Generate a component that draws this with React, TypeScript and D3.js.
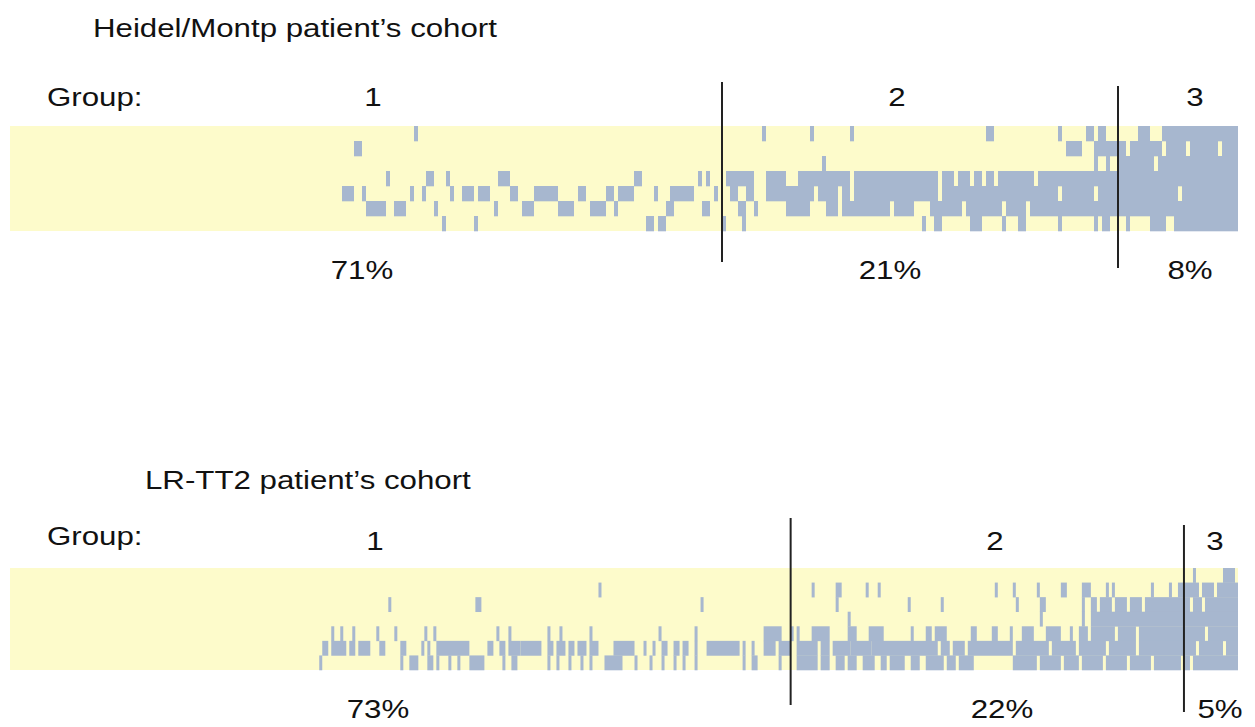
import { useEffect, useRef } from 'react';
import * as d3 from 'd3';

type Run = [number, number];

// Heidel/Montp cohort: altered samples, runs of local column indices per row
const topSamples = 307;
const topFirstAltered = 82;
const topBoundaries = [178, 277];
const topLabels = ['1', '2', '3'];
const topPercents = ['71%', '21%', '8%'];
const topRows: Run[][] = [
  [[19, 19], [106, 106], [118, 118], [128, 128], [162, 163], [180, 180], [187, 188], [190, 191], [200, 202], [206, 224]],
  [[4, 5], [182, 185], [189, 196], [198, 205], [207, 211], [213, 219], [221, 224]],
  [[121, 121], [189, 189], [192, 192], [195, 203], [205, 224]],
  [[12, 12], [22, 23], [27, 27], [40, 42], [74, 75], [90, 90], [92, 92], [97, 103], [107, 111], [115, 121], [122, 127], [129, 137], [138, 149], [151, 153], [155, 157], [159, 160], [162, 163], [165, 173], [175, 224]],
  [[1, 3], [6, 6], [18, 18], [21, 21], [28, 28], [31, 33], [35, 37], [43, 44], [49, 54], [60, 61], [67, 68], [70, 73], [79, 79], [83, 88], [94, 94], [98, 99], [102, 103], [107, 118], [120, 124], [126, 127], [129, 146], [147, 149], [151, 179], [181, 188], [190, 209], [211, 224]],
  [[7, 11], [14, 16], [24, 24], [39, 39], [46, 48], [55, 58], [63, 66], [69, 69], [82, 83], [91, 92], [100, 101], [104, 104], [112, 117], [122, 124], [126, 129], [130, 137], [139, 143], [148, 155], [157, 165], [167, 171], [173, 224]],
  [[26, 26], [34, 34], [77, 78], [80, 81], [96, 96], [101, 101], [146, 146], [149, 150], [158, 160], [166, 166], [170, 171], [180, 180], [189, 189], [191, 192], [197, 197], [203, 206], [209, 224]],
];

// LR-TT2 cohort
const botSamples = 409;
const botFirstAltered = 102;
const botBoundaries = [260, 391];
const botLabels = ['1', '2', '3'];
const botPercents = ['73%', '22%', '5%'];
const botRows: Run[][] = [
  [[292, 292], [302, 305]],
  [[94, 94], [165, 165], [173, 174], [183, 183], [187, 187], [226, 226], [232, 232], [240, 240], [248, 249], [255, 257], [263, 263], [265, 265], [278, 278], [284, 284], [287, 293], [295, 298], [300, 306]],
  [[24, 24], [53, 54], [128, 128], [173, 173], [197, 197], [208, 208], [233, 233], [241, 242], [255, 255], [258, 259], [261, 264], [266, 269], [271, 274], [276, 290], [292, 294], [296, 306]],
  [[177, 177], [241, 241], [255, 255], [258, 306]],
  [[5, 5], [8, 8], [12, 12], [20, 20], [26, 26], [36, 36], [39, 39], [60, 60], [64, 64], [77, 77], [81, 81], [91, 91], [114, 114], [126, 126], [149, 154], [158, 158], [160, 160], [165, 170], [177, 179], [184, 188], [198, 198], [203, 204], [206, 209], [218, 219], [225, 226], [231, 231], [235, 238], [243, 247], [251, 251], [254, 256], [258, 265], [267, 272], [274, 295], [297, 306]],
  [[2, 3], [5, 9], [11, 12], [14, 17], [21, 22], [28, 29], [35, 35], [37, 37], [40, 50], [57, 58], [61, 62], [64, 67], [68, 74], [77, 78], [80, 82], [84, 85], [87, 89], [91, 93], [99, 105], [109, 109], [112, 112], [115, 116], [119, 120], [122, 123], [126, 126], [130, 140], [142, 142], [145, 145], [149, 152], [154, 157], [160, 166], [168, 170], [172, 177], [178, 184], [185, 206], [208, 210], [212, 215], [217, 231], [233, 243], [245, 252], [254, 262], [264, 272], [274, 292], [294, 301], [303, 306]],
  [[1, 1], [28, 28], [31, 33], [37, 38], [40, 40], [44, 44], [47, 47], [51, 55], [62, 62], [65, 66], [77, 77], [80, 80], [84, 84], [88, 88], [91, 91], [96, 101], [106, 106], [111, 111], [115, 115], [119, 119], [122, 122], [126, 126], [142, 142], [145, 146], [154, 154], [160, 166], [168, 170], [173, 175], [177, 179], [182, 185], [188, 189], [191, 195], [198, 200], [203, 208], [210, 212], [214, 218], [232, 239], [241, 247], [249, 253], [255, 261], [263, 269], [271, 277], [279, 287], [289, 290], [292, 306]],
];

const YELLOW = '#FDFBCB';
const BLUE = '#A7B7CF';
const FONT = 'Liberation Sans, Arial, sans-serif';

interface PanelCfg {
  title: string;
  titleX: number;
  titleY: number;
  groupY: number;
  labelY: number;
  labelX: number[];
  bandTop: number;
  bandBottom: number;
  pctY: number;
  pctX: number[];
  lineTops: number[];
  lineBottoms: number[];
  samples: number;
  firstAltered: number;
  boundaries: number[];
  labels: string[];
  percents: string[];
  rows: Run[][];
}

function drawPanel(svg: d3.Selection<SVGSVGElement, unknown, null, undefined>, c: PanelCfg) {
  const x = d3.scaleLinear().domain([0, c.samples]).range([10, 1238]);
  const y = d3.scaleBand<number>().domain(d3.range(c.rows.length)).range([c.bandTop, c.bandBottom]);
  const g = svg.append('g');

  g.append('rect')
    .attr('x', x(0)).attr('y', c.bandTop)
    .attr('width', x(c.samples) - x(0)).attr('height', c.bandBottom - c.bandTop)
    .attr('fill', YELLOW);

  const cells = c.rows.flatMap((runs, r) => runs.map(([a, b]) => ({ r, a: a + c.firstAltered, b: b + c.firstAltered + 1 })));
  g.selectAll('rect.cell')
    .data(cells)
    .join('rect')
    .attr('class', 'cell')
    .attr('x', (d) => x(d.a))
    .attr('width', (d) => x(d.b) - x(d.a))
    .attr('y', (d) => y(d.r) || 0)
    .attr('height', y.bandwidth() + 0.3)
    .attr('fill', BLUE);

  c.boundaries.forEach((bnd, i) => {
    g.append('line')
      .attr('x1', x(bnd)).attr('x2', x(bnd))
      .attr('y1', c.lineTops[i]).attr('y2', c.lineBottoms[i])
      .attr('stroke', '#222').attr('stroke-width', 2);
  });

  // reference text is horizontally stretched
  const txt = (s: string, tx: number, ty: number, anchor = 'start') =>
    g.append('text')
      .attr('transform', `translate(${tx},${ty}) scale(1.25,1)`)
      .attr('text-anchor', anchor)
      .attr('font-family', FONT).attr('font-size', 25).attr('fill', '#111').text(s);

  txt(c.title, c.titleX, c.titleY);
  txt('Group:', 47, c.groupY);
  c.labels.forEach((l, i) => txt(l, c.labelX[i], c.labelY, 'middle'));
  c.percents.forEach((p, i) => txt(p, c.pctX[i], c.pctY, 'middle'));
}

export default function App() {
  const ref = useRef<SVGSVGElement>(null);
  useEffect(() => {
    if (!ref.current) return;
    const svg = d3.select(ref.current);
    svg.selectAll('*').remove();
    drawPanel(svg, {
      title: 'Heidel/Montp patient’s cohort', titleX: 93, titleY: 37,
      groupY: 106, labelY: 106, labelX: [373, 897, 1195],
      bandTop: 126, bandBottom: 231, pctY: 279, pctX: [362, 890, 1190],
      lineTops: [82, 86], lineBottoms: [262, 268],
      samples: topSamples, firstAltered: topFirstAltered, boundaries: topBoundaries,
      labels: topLabels, percents: topPercents, rows: topRows,
    });
    drawPanel(svg, {
      title: 'LR-TT2 patient’s cohort', titleX: 145, titleY: 489,
      groupY: 545, labelY: 550, labelX: [375, 995, 1215],
      bandTop: 568, bandBottom: 670, pctY: 718, pctX: [378, 1002, 1220],
      lineTops: [518, 525], lineBottoms: [705, 712],
      samples: botSamples, firstAltered: botFirstAltered, boundaries: botBoundaries,
      labels: botLabels, percents: botPercents, rows: botRows,
    });
  }, []);
  return (
    <svg ref={ref} width={1255} height={727}
      style={{ position: 'absolute', left: 0, top: 0, background: '#fff' }} />
  );
}
